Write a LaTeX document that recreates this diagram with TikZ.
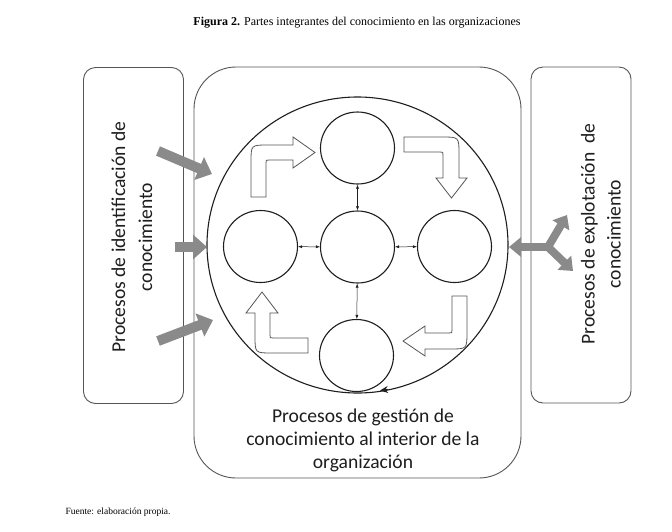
\documentclass[tikz,border=0pt]{standalone}
\usepackage{fontspec}
\setmainfont{Liberation Serif}
\newfontfamily\calfont{Carlito}
\usetikzlibrary{arrows.meta,shapes.geometric}
\definecolor{garrow}{HTML}{8A8A8A}
\definecolor{lin}{HTML}{555555}
\definecolor{ink}{HTML}{1E1E1E}
\tikzset{
  sidebox/.style={draw=lin, line width=0.9pt, rounded corners=12pt, minimum width=100pt, minimum height=336pt, inner sep=0pt},
  mainbox/.style={draw=lin, line width=0.9pt, rounded corners=42pt, minimum width=327pt, minimum height=411pt, inner sep=0pt},
  blob/.style={draw=ink, line width=1.1pt, ellipse, minimum width=74pt, minimum height=72pt, inner sep=0pt},
  link/.style={draw=ink, line width=0.5pt, {Latex[length=4pt,width=3pt]}-{Latex[length=4pt,width=3pt]}},
  hollow/.style={draw=lin, line width=0.8pt, fill=white},
  grayarrow/.style={draw=garrow, line width=10pt, -{Triangle[length=14pt,width=24pt]}},
  thinarrow/.style={draw=garrow, line width=8pt, -{Triangle[length=12pt,width=19pt]}},
  bigtxt/.style={text=ink, align=center, font=\calfont\fontsize{19.6}{23}\selectfont},
}
\begin{document}
\begin{tikzpicture}[x=1pt,y=-1pt]
\useasboundingbox (0,0) rectangle (672,531);
\fill[white] (0,0) rectangle (672,531);

% title and source
\node (title) at (357,23) {\fontsize{12}{14}\selectfont\textbf{Figura 2.} Partes integrantes del conocimiento en las organizaciones};
\node[anchor=west] (src) at (62,512) {\fontsize{9.5}{11}\selectfont Fuente: elaboración propia.};

% boxes
\node[sidebox] (lbox) at (133.5,235.5) {};
\node[sidebox] (rbox) at (581,235) {};
\node[mainbox] (mbox) at (357.5,272.5) {};

% big ring
\node[draw=ink, line width=1.1pt, ellipse, minimum width=301pt, minimum height=296pt, inner sep=0pt] (ring) at (357.5,245) {};
\coordinate (ra) at (388,389.5);
\coordinate (rb) at (380,390.5);
\draw[draw=ink, line width=1.1pt, -{Stealth[length=8pt,width=7pt]}] (ra) -- (rb);

% small circles
\node[blob] (ct) at (357.5,148) {};
\node[blob] (cc) at (357.5,247) {};
\node[blob] (cl) at (260.5,246.5) {};
\node[blob] (cr) at (454.5,246.5) {};
\node[blob] (cb) at (356.5,355.5) {};

\draw[link] (ct) -- (cc);
\draw[link] (cc) -- (cb);
\draw[link] (cl) -- (cc);
\draw[link] (cc) -- (cr);

% bent hollow arrows
\draw[hollow] (251,197) -- (251,162) .. controls (251,145) .. (268,145) -- (293,145) -- (293,137) -- (315,152.5) -- (293,168) -- (293,160) -- (269,160) .. controls (266,160) .. (266,163) -- (266,197) -- cycle;
\draw[hollow] (404,137) -- (442,137) .. controls (459,137) .. (459,154) -- (459,178) -- (467,178) -- (451.5,198) -- (436,178) -- (443,178) -- (443,155) .. controls (443,152) .. (440,152) -- (404,152) -- cycle;
\draw[hollow] (452,296) -- (467,296) -- (467,332) .. controls (467,349) .. (450,349) -- (425,349) -- (425,356) -- (403,341) -- (425,326) -- (425,333) -- (449,333) .. controls (452,333) .. (452,330) -- cycle;
\draw[hollow] (308,338) -- (308,353) -- (272,353) .. controls (255,353) .. (255,336) -- (255,313) -- (246,313) -- (262,292) -- (278,313) -- (270,313) -- (270,335) .. controls (270,338) .. (273,338) -- cycle;

% gray arrows left
\coordinate (g1s) at (158,151);
\coordinate (g1e) at (212,174);
\coordinate (g2s) at (175,247);
\coordinate (g2e) at (207,247);
\coordinate (g3s) at (158,341);
\coordinate (g3e) at (213,320);
\draw[grayarrow] (g1s) -- (g1e);
\draw[grayarrow] (g2s) -- (g2e);
\draw[grayarrow] (g3s) -- (g3e);

% gray arrows right (split)
\coordinate (gj) at (548,247);
\coordinate (gl) at (509,247);
\coordinate (gu) at (567,215);
\coordinate (gd) at (573,271);
\draw[thinarrow] (gj) -- (gl);
\draw[thinarrow] (gj) -- (gu);
\draw[thinarrow] (gj) -- (gd);

% texts
\node[bigtxt, rotate=90, font=\calfont\fontsize{19.6}{27}\selectfont] (ltext) at (132,237) {Procesos de identificación de\\conocimiento};
\node[bigtxt, rotate=90, font=\calfont\fontsize{19.6}{26}\selectfont] (rtext) at (601,234) {Procesos de explotación\ \ de\\conocimiento};
\node[bigtxt] (mtext) at (363,440) {Procesos de gestión de\\conocimiento al interior de la\\organización};
\end{tikzpicture}
\end{document}
